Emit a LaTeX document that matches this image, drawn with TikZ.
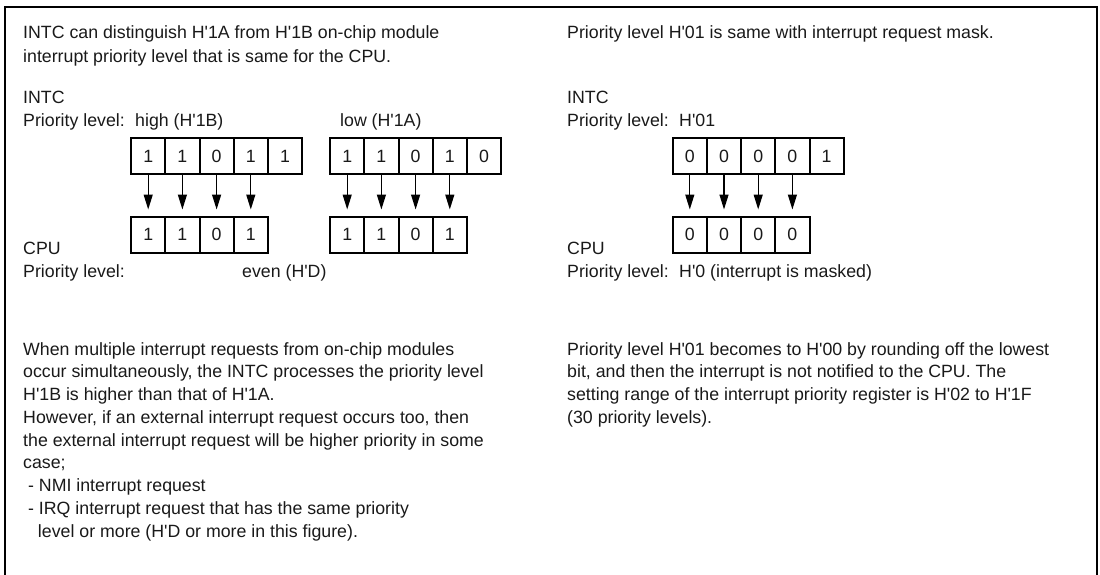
\documentclass[tikz,border=0pt]{standalone}
\usepackage{fontspec}
\setmainfont{Liberation Sans}
\usetikzlibrary{positioning,arrows.meta}
\definecolor{inktext}{RGB}{25,25,25}
\newcommand{\apos}{\textquotesingle}

\begin{document}
\begin{tikzpicture}[x=1pt, y=-1pt,
  txt/.style={anchor=base west, inner sep=0pt, align=left, text=inktext, font=\fontsize{17.75}{23.5}\selectfont},
  para/.style={txt, font=\fontsize{17.75}{22.75}\selectfont},
  bit/.style={draw, line width=2pt, minimum width=34.2pt, minimum height=36pt, inner sep=0pt, text=inktext, font=\fontsize{17.75}{20}\selectfont},
  pass/.style={-{Triangle[length=15pt, width=9pt]}, line width=1.3pt, shorten >=6pt}
]
  \useasboundingbox (0,0) rectangle (1100,575);
  \draw[line width=2.5pt] (5,590) -- (5,7) -- (1097,7) -- (1097,590);

  % left: H'1B and H'1A
  \node[txt] (introL) at (23,62.5) {INTC can distinguish H\apos1A from H\apos1B on-chip module\\interrupt priority level that is same for the CPU.};
  \node[txt] (intcL) at (23,104) {INTC};
  \node[txt] (levL) at (23,127) {Priority level:};
  \node[txt] (highL) at (135,127) {high (H\apos1B)};
  \node[txt] (lowL) at (340,127) {low (H\apos1A)};

  \foreach \v [count=\i] in {1,1,0,1,1}
    \node[bit] (hb\i) at (114+34.2*\i,156) {\v};
  \foreach \v [count=\i] in {1,1,0,1,0}
    \node[bit] (lb\i) at (313+34.2*\i,156) {\v};
  \foreach \v [count=\i] in {1,1,0,1}{
    \node[bit] (hc\i) at (114+34.2*\i,234.5) {\v};
    \node[bit] (lc\i) at (313+34.2*\i,234.5) {\v};
    \draw[pass] (hb\i) -- (hc\i);
    \draw[pass] (lb\i) -- (lc\i);
  }

  \node[txt] (cpuL) at (23,254) {CPU};
  \node[txt] (cpulevL) at (23,277) {Priority level:};
  \node[txt] (evenL) at (242,277) {even (H\apos D)};

  \node[para] (noteL) at (23,537) {When multiple interrupt requests from on-chip modules\\occur simultaneously, the INTC processes the priority level\\H\apos1B is higher than that of H\apos1A.\\However, if an external interrupt request occurs too, then\\the external interrupt request will be higher priority in some\\case;\\\ - NMI interrupt request\\\ - IRQ interrupt request that has the same priority\\\ \ \ level or more (H\apos D or more in this figure).};

  % right: H'01
  \node[txt] (introR) at (567,39) {Priority level H\apos01 is same with interrupt request mask.};
  \node[txt] (intcR) at (567,104) {INTC};
  \node[txt] (levR) at (567,127) {Priority level:};
  \node[txt] (maskR) at (679,127) {H\apos01};

  \foreach \v [count=\i] in {0,0,0,0,1}
    \node[bit] (mb\i) at (655.6+34.2*\i,156) {\v};
  \foreach \v [count=\i] in {0,0,0,0}{
    \node[bit] (mc\i) at (655.6+34.2*\i,234.5) {\v};
    \draw[pass] (mb\i) -- (mc\i);
  }

  \node[txt] (cpuR) at (567,254) {CPU};
  \node[txt] (cpulevR) at (567,277) {Priority level:};
  \node[txt] (maskedR) at (679,277) {H\apos0 (interrupt is masked)};

  \node[para] (noteR) at (567,423.25) {Priority level H\apos01 becomes to H\apos00 by rounding off the lowest\\bit, and then the interrupt is not notified to the CPU. The\\setting range of the interrupt priority register is H\apos02 to H\apos1F\\(30 priority levels).};
\end{tikzpicture}
\end{document}
